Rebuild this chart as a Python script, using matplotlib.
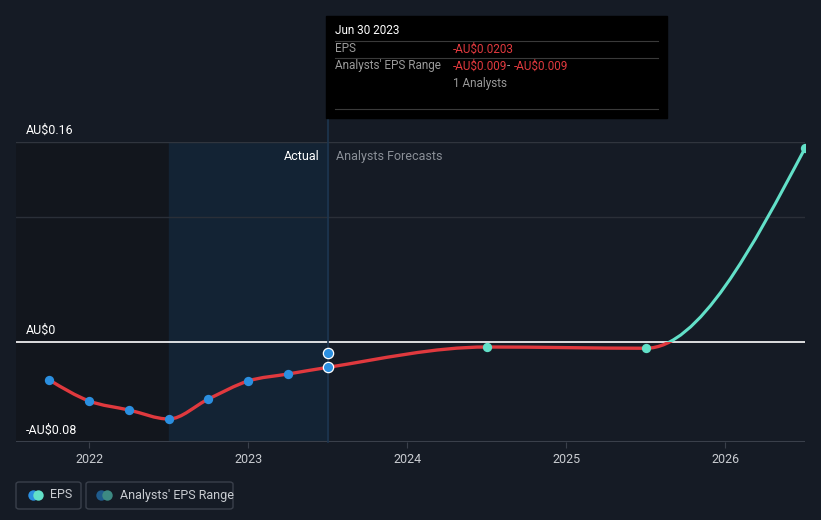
import numpy as np
import matplotlib
matplotlib.use('Agg')
import matplotlib.pyplot as plt
from matplotlib.path import Path
from matplotlib.patches import PathPatch, Rectangle, FancyBboxPatch
from matplotlib.lines import Line2D

plt.rcParams['font.family'] = ['Roboto', 'DejaVu Sans']

# data (decimal years, EPS in AU$)
actual_x = [2021.75, 2022.0, 2022.25, 2022.5, 2022.75, 2023.0, 2023.25, 2023.5]
actual_eps = [-0.0304, -0.0472, -0.0544, -0.0616, -0.0456, -0.0312, -0.0256, -0.0203]
forecast_x = [2024.5, 2025.5, 2026.5]
forecast_eps = [-0.004, -0.005, 0.155]
range_x = [2023.5]
range_eps = [-0.009]
year_ticks = [2022, 2023, 2024, 2025, 2026]
y_labels = {0.16: 'AU$0.16', 0.0: 'AU$0', -0.08: '-AU$0.08'}

BG = '#151b25'
RED = '#e0393e'
TEAL = '#62e0c8'
BLUE = '#2b8fe0'
W, H = 821, 520


def fx(px):
    return px / W


def fy(py):
    return 1 - py / H


def monotone_path(xs, ys):
    # d3 curveMonotoneX as cubic bezier segments
    xs = np.asarray(xs, float)
    ys = np.asarray(ys, float)
    n = len(xs)
    h = np.diff(xs)
    s = np.diff(ys) / h
    t = np.zeros(n)
    for i in range(1, n - 1):
        p = (s[i - 1] * h[i] + s[i] * h[i - 1]) / (h[i - 1] + h[i])
        t[i] = (np.sign(s[i - 1]) + np.sign(s[i])) * min(abs(s[i - 1]), abs(s[i]), 0.5 * abs(p))
    t[0] = (3 * s[0] - t[1]) / 2
    t[-1] = (3 * s[-1] - t[-2]) / 2
    verts = [(xs[0], ys[0])]
    codes = [Path.MOVETO]
    for i in range(n - 1):
        dx = h[i] / 3
        verts += [(xs[i] + dx, ys[i] + dx * t[i]), (xs[i + 1] - dx, ys[i + 1] - dx * t[i + 1]), (xs[i + 1], ys[i + 1])]
        codes += [Path.CURVE4] * 3
    return Path(verts, codes)


fig = plt.figure(figsize=(8.21, 5.2), dpi=100, facecolor=BG)
ax = fig.add_axes([fx(16), fy(442), fx(805) - fx(16), fy(142) - fy(442)])
ax.set_facecolor(BG)
x0, x1 = 2021.54, 2026.5
ax.set_xlim(x0, x1)
ax.set_ylim(-0.08, 0.16)
for sp in ax.spines.values():
    sp.set_visible(False)
ax.set_yticks([])
ax.set_xticks(year_ticks)
ax.set_xticklabels([str(y) for y in year_ticks], color='#c9ccd1', fontsize=9)
ax.tick_params(axis='x', length=4, color='#3a404b', pad=4)

# shaded past regions
ax.axvspan(x0, 2022.5, color='#12161d', zorder=0)
ax.axvspan(2022.5, 2023.5, color='#132334', zorder=0)

# grid lines
ax.axhline(0.16, color='#30353e', lw=1, zorder=1)
ax.axhline(0.1, color='#2a2f38', lw=1, zorder=1)
ax.axhline(-0.08, color='#3a404b', lw=1.5, zorder=1)
ax.axhline(0.0, color='white', lw=1.2, zorder=2)

for v, lab in y_labels.items():
    ax.text(2021.6, v + 0.0045, lab, color='white', fontsize=9, va='bottom', ha='left')

ax.text(2023.45, 0.148, 'Actual', color='white', fontsize=9, ha='right', va='center')
ax.text(2023.55, 0.148, 'Analysts Forecasts', color='#8a8f97', fontsize=9, ha='left', va='center')

# vertical marker line up to tooltip
ax.plot([2023.5, 2023.5], [-0.08, 0.16 + 24 / 1250], color='#1d3650', lw=1.2, zorder=2.5, clip_on=False)

# eps line: red below zero, teal above
path = monotone_path(actual_x + forecast_x, actual_eps + forecast_eps)
for color, lw, clip_y, clip_h in [(RED, 2.4, -1, 1), (TEAL, 2.2, 0, 1)]:
    patch = PathPatch(path, fill=False, edgecolor=color, lw=lw, zorder=3, capstyle='round')
    ax.add_patch(patch)
    clip = Rectangle((x0, clip_y), x1 - x0, clip_h, transform=ax.transData)
    patch.set_clip_path(clip)

ax.scatter(actual_x[:-1], actual_eps[:-1], s=45, color=BLUE, zorder=4, linewidths=0)
ax.scatter(actual_x[-1:], actual_eps[-1:], s=55, color=BLUE, edgecolors='white', linewidths=0.9, zorder=5)
ax.scatter(range_x, range_eps, s=55, color=BLUE, edgecolors='white', linewidths=0.9, zorder=5)
ax.scatter(forecast_x, forecast_eps, s=45, color=TEAL, zorder=4, linewidths=0)

# tooltip
fig.add_artist(Rectangle((fx(326), fy(118)), fx(667) - fx(326), fy(16) - fy(118), color='black', zorder=10))
for yy in [41, 58, 109]:
    fig.add_artist(Line2D([fx(335), fx(658)], [fy(yy), fy(yy)], color='#3a3a3a', lw=0.8, zorder=11))
fig.text(fx(335), fy(31), 'Jun 30 2023', color='white', fontsize=8.5, va='center', zorder=12)
fig.text(fx(335), fy(49), 'EPS', color='#9a9a9a', fontsize=8.5, va='center', zorder=12)
fig.text(fx(453), fy(49), '-AU$0.0203', color=RED, fontsize=8.5, va='center', zorder=12)
fig.text(fx(335), fy(66), "Analysts' EPS Range", color='#9a9a9a', fontsize=8.5, va='center', zorder=12)
fig.text(fx(453), fy(66), '-AU$0.009', color=RED, fontsize=8.5, va='center', zorder=12)
fig.text(fx(507), fy(66), '-', color='#9a9a9a', fontsize=8.5, va='center', zorder=12)
fig.text(fx(514), fy(66), '-AU$0.009', color=RED, fontsize=8.5, va='center', zorder=12)
fig.text(fx(453), fy(83), '1 Analysts', color='#9a9a9a', fontsize=8.5, va='center', zorder=12)

# legend
for (lx0, lx1) in [(16, 81), (86, 233)]:
    fig.add_artist(FancyBboxPatch((fx(lx0), fy(509)), fx(lx1) - fx(lx0), fy(482) - fy(509),
                                  boxstyle='round,pad=0,rounding_size=0.004', facecolor=BG,
                                  edgecolor='#3a404b', lw=1))
for px, col in [(33, BLUE), (38, TEAL), (101, '#1f5b8c'), (107, '#3d8a83')]:
    fig.add_artist(Line2D([fx(px)], [fy(495)], marker='o', markersize=7.5, color=col, markeredgewidth=0))
fig.text(fx(50), fy(495), 'EPS', color='#c9ccd1', fontsize=9, va='center')
fig.text(fx(120), fy(495), "Analysts' EPS Range", color='#c9ccd1', fontsize=9, va='center')

fig.savefig('out.png', dpi=100, facecolor=BG)
